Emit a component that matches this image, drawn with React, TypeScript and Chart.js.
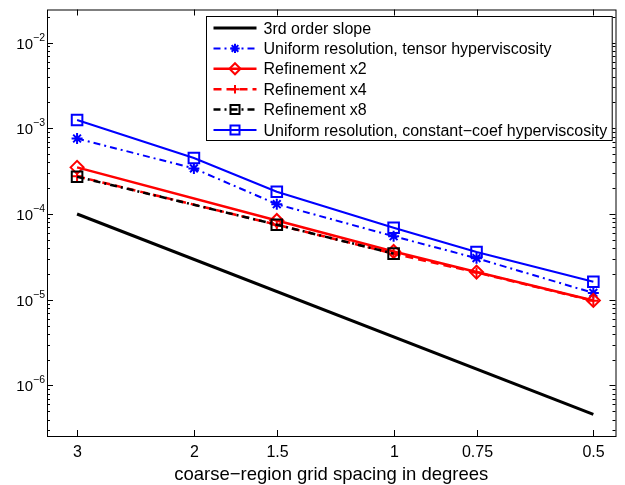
import React, { useEffect, useRef } from 'react';
import { Chart, registerables } from 'chart.js';

Chart.register(...registerables);

// ---------- data ----------
const gridSpacing = [3, 2, 1.5, 1, 0.75, 0.5];
const xTickLabels = ['3', '2', '1.5', '1', '0.75', '0.5'];
const yTickValues = [1e-2, 1e-3, 1e-4, 1e-5, 1e-6];
const yTickExponents = ['\u22122', '\u22123', '\u22124', '\u22125', '\u22126'];

const slopeX = [3, 0.5];
const slopeY = [1.0e-4, 4.6e-7];
const tensorY = [7.6e-4, 3.4e-4, 1.3e-4, 5.5e-5, 3.05e-5, 1.2e-5];
const refineX = [3, 1.5, 1, 0.75, 0.5];
const refine2Y = [3.5e-4, 8.4e-5, 3.65e-5, 2.1e-5, 9.8e-6];
const refine4Y = [2.75e-4, 7.5e-5, 3.45e-5, 2.08e-5, 9.7e-6];
const refine8X = [3, 1.5, 1];
const refine8Y = [2.72e-4, 7.5e-5, 3.45e-5];
const constCoefY = [1.25e-3, 4.5e-4, 1.82e-4, 6.9e-5, 3.6e-5, 1.62e-5];

const seriesLabels = [
  '3rd order slope',
  'Uniform resolution, tensor hyperviscosity',
  'Refinement x2',
  'Refinement x4',
  'Refinement x8',
  'Uniform resolution, constant\u2212coef hyperviscosity',
];
const xTitle = 'coarse\u2212region grid spacing in degrees';

const FONT = '"Liberation Sans", Arial, Helvetica, sans-serif';
const BLUE = '#0000ff';
const RED = '#ff0000';
const BLACK = '#000000';

const toPts = (xs: number[], ys: number[]) => xs.map((x, i) => ({ x, y: ys[i] }));

function drawMarker(ctx: CanvasRenderingContext2D, style: string, x: number, y: number, r: number) {
  ctx.beginPath();
  if (style === 'rect') {
    const s = r * Math.SQRT1_2;
    ctx.rect(x - s, y - s, 2 * s, 2 * s);
  } else if (style === 'rectRot') {
    ctx.moveTo(x, y - r);
    ctx.lineTo(x + r, y);
    ctx.lineTo(x, y + r);
    ctx.lineTo(x - r, y);
    ctx.closePath();
  } else if (style === 'cross') {
    ctx.moveTo(x - r, y);
    ctx.lineTo(x + r, y);
    ctx.moveTo(x, y - r);
    ctx.lineTo(x, y + r);
  } else if (style === 'star') {
    for (let k = 0; k < 4; k++) {
      const a = (k * Math.PI) / 4;
      ctx.moveTo(x - r * Math.cos(a), y - r * Math.sin(a));
      ctx.lineTo(x + r * Math.cos(a), y + r * Math.sin(a));
    }
  }
  ctx.stroke();
}

const matlabPlugin = {
  id: 'matlabAxes',
  afterDraw(chart: any) {
    const { ctx, chartArea: a, scales } = chart;
    const xs = scales.x;
    const ys = scales.y;
    ctx.save();
    ctx.strokeStyle = BLACK;
    ctx.fillStyle = BLACK;
    ctx.lineWidth = 1;
    ctx.setLineDash([]);

    const seg = (x1: number, y1: number, x2: number, y2: number) => {
      ctx.beginPath();
      ctx.moveTo(x1, y1);
      ctx.lineTo(x2, y2);
      ctx.stroke();
    };

    // x ticks & labels
    ctx.font = `16px ${FONT}`;
    ctx.textAlign = 'center';
    ctx.textBaseline = 'alphabetic';
    gridSpacing.forEach((v, i) => {
      const px = Math.round(xs.getPixelForValue(v)) + 0.5;
      seg(px, a.bottom, px, a.bottom - 6);
      seg(px, a.top, px, a.top + 6);
      ctx.fillText(xTickLabels[i], px, a.bottom + 21);
    });

    // y ticks (major + minor)
    const lo = Math.floor(Math.log10(ys.min));
    const hi = Math.ceil(Math.log10(ys.max));
    for (let e = lo; e <= hi; e++) {
      for (let k = 1; k <= 9; k++) {
        const v = k * Math.pow(10, e);
        if (v < ys.min || v > ys.max) continue;
        const py = Math.round(ys.getPixelForValue(v)) + 0.5;
        const len = k === 1 ? 6 : 3;
        seg(a.left, py, a.left + len, py);
        seg(a.right, py, a.right - len, py);
      }
    }
    // y labels 10^n
    yTickValues.forEach((v, i) => {
      const py = ys.getPixelForValue(v);
      ctx.font = `15px ${FONT}`;
      ctx.textAlign = 'right';
      ctx.fillText('10', a.left - 14, py + 6);
      ctx.font = `10.5px ${FONT}`;
      ctx.textAlign = 'left';
      ctx.fillText(yTickExponents[i], a.left - 14, py - 2);
    });

    // box
    ctx.strokeRect(a.left + 0.5, a.top + 0.5, a.right - a.left, a.bottom - a.top);

    // x title
    ctx.font = `18.5px ${FONT}`;
    ctx.textAlign = 'center';
    ctx.fillText(xTitle, (a.left + a.right) / 2, a.bottom + 44);

    // legend
    const ds = chart.data.datasets;
    ctx.font = `16px ${FONT}`;
    let maxW = 0;
    seriesLabels.forEach((t) => (maxW = Math.max(maxW, ctx.measureText(t).width)));
    const rowH = 20.4;
    const boxW = 57 + maxW + 5;
    const boxH = 12 + rowH * 5 + 10;
    const bx = Math.round(a.right - 4 - boxW) + 0.5;
    const by = Math.round(a.top + 6) + 0.5;
    ctx.fillStyle = '#ffffff';
    ctx.fillRect(bx, by, boxW, boxH);
    ctx.strokeStyle = BLACK;
    ctx.lineWidth = 1;
    ctx.strokeRect(bx, by, boxW, boxH);
    ds.forEach((d: any, i: number) => {
      const cy = by + 11.5 + rowH * i;
      ctx.strokeStyle = d.borderColor;
      ctx.lineWidth = d.borderWidth;
      ctx.setLineDash(d.borderDash || []);
      seg(bx + 7, cy, bx + 50, cy);
      ctx.setLineDash([]);
      if (d.pointRadius > 0) {
        ctx.lineWidth = d.pointBorderWidth;
        drawMarker(ctx, d.pointStyle, bx + 28.5, cy, d.pointRadius * 0.85);
      }
      ctx.fillStyle = BLACK;
      ctx.textAlign = 'left';
      ctx.fillText(seriesLabels[i], bx + 57, cy + 5.5);
    });
    ctx.restore();
  },
};

export default function App() {
  const ref = useRef<HTMLCanvasElement>(null);
  useEffect(() => {
    if (!ref.current) return;
    const common = { fill: false, tension: 0, pointBackgroundColor: 'rgba(0,0,0,0)', pointHoverRadius: 0 };
    const chart = new Chart(ref.current, {
      type: 'line',
      data: {
        datasets: [
          { ...common, label: seriesLabels[0], data: toPts(slopeX, slopeY), borderColor: BLACK, borderWidth: 3, pointRadius: 0, pointStyle: 'circle', pointBorderWidth: 0, order: 6 },
          { ...common, label: seriesLabels[1], data: toPts(gridSpacing, tensorY), borderColor: BLUE, pointBorderColor: BLUE, borderWidth: 2, borderDash: [7, 4, 2, 4], pointStyle: 'star', pointRadius: 5.5, pointBorderWidth: 2, order: 5 },
          { ...common, label: seriesLabels[2], data: toPts(refineX, refine2Y), borderColor: RED, pointBorderColor: RED, borderWidth: 2.5, pointStyle: 'rectRot', pointRadius: 6.5, pointBorderWidth: 2, order: 4 },
          { ...common, label: seriesLabels[3], data: toPts(refineX, refine4Y), borderColor: RED, pointBorderColor: RED, borderWidth: 2.5, borderDash: [8, 5], pointStyle: 'cross', pointRadius: 5, pointBorderWidth: 2, order: 3 },
          { ...common, label: seriesLabels[4], data: toPts(refine8X, refine8Y), borderColor: BLACK, pointBorderColor: BLACK, borderWidth: 2.5, borderDash: [7, 4, 2, 4], pointStyle: 'rect', pointRadius: 7.5, pointBorderWidth: 2, order: 2 },
          { ...common, label: seriesLabels[5], data: toPts(gridSpacing, constCoefY), borderColor: BLUE, pointBorderColor: BLUE, borderWidth: 2, pointStyle: 'rect', pointRadius: 7.5, pointBorderWidth: 2, order: 1 },
        ],
      },
      options: {
        animation: false,
        responsive: false,
        maintainAspectRatio: false,
        layout: { padding: { left: 47, top: 6, right: 5, bottom: 49 } },
        plugins: { legend: { display: false }, tooltip: { enabled: false } },
        events: [],
        scales: {
          x: { type: 'logarithmic', reverse: true, min: 0.463, max: 3.33, display: false },
          y: { type: 'logarithmic', min: 2.57e-7, max: 0.0243, display: false },
        },
      },
      plugins: [matlabPlugin],
    });
    return () => chart.destroy();
  }, []);
  return (
    <div style={{ position: 'absolute', left: 0, top: 0, width: 625, height: 485, background: '#fff' }}>
      <canvas ref={ref} width={625} height={485} style={{ display: 'block', width: 625, height: 485 }} />
    </div>
  );
}
